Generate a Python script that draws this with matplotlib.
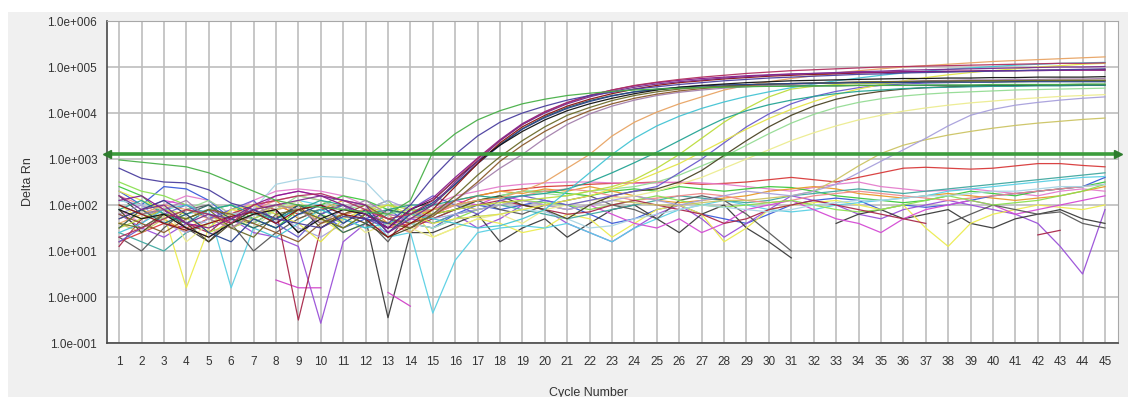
import numpy as np
import matplotlib
matplotlib.use("Agg")
import matplotlib.pyplot as plt
from matplotlib.patches import Rectangle
from matplotlib.ticker import FixedLocator, FuncFormatter, NullLocator

plt.rcParams['font.family'] = ['Liberation Sans', 'DejaVu Sans']

cycles = np.arange(1, 46)
threshold = 1300
y_decades = [-1, 0, 1, 2, 3, 4, 5, 6]

# log10(Delta Rn) per cycle
a_green = [2.98, 2.93, 2.88, 2.83, 2.7, 2.5, 2.3, 2.1, 2.0, 1.95, 1.9, 1.85, 1.8, 2.1,
           3.15, 3.55, 3.85, 4.05, 4.2, 4.3, 4.38, 4.43, 4.47, 4.5, 4.52, 4.54, 4.55, 4.56, 4.57, 4.58,
           4.58, 4.59, 4.59, 4.6, 4.6, 4.6, 4.61, 4.61, 4.61, 4.62, 4.62, 4.62, 4.62, 4.63, 4.63]
a_purple = [2.8, 2.58, 2.5, 2.48, 2.33, 2.04, 1.9, 1.7, 1.6, 1.5, 1.75, 1.7, 1.6, 2.0,
            2.6, 3.1, 3.5, 3.8, 4.0, 4.15, 4.28, 4.38, 4.45, 4.52, 4.57, 4.62, 4.66, 4.7, 4.73, 4.76,
            4.78, 4.8, 4.82, 4.84, 4.85, 4.87, 4.88, 4.89, 4.9, 4.91, 4.92, 4.93, 4.94, 4.95, 4.96]
m1 = [2.2, 1.9, 2.0, 1.6, 1.8, 1.7, 1.9, 2.0, 2.1, 2.2, 2.1, 2.0, 1.4, 1.7,
      2.0, 2.5, 2.95, 3.4, 3.75, 4.0, 4.2, 4.35, 4.47, 4.56, 4.63, 4.68, 4.72, 4.76, 4.79, 4.82,
      4.84, 4.86, 4.88, 4.9, 4.91, 4.93, 4.94, 4.95, 4.96, 4.97, 4.98, 4.99, 5.0, 5.0, 5.01]
m2 = [1.9, 1.7, 1.8, 1.5, 1.3, 1.6, 1.8, 1.9, 1.4, 1.7, 1.9, 1.8, 1.5, 1.9,
      2.1, 2.55, 2.95, 3.3, 3.6, 3.85, 4.05, 4.2, 4.32, 4.42, 4.5, 4.56, 4.6, 4.63, 4.66, 4.68,
      4.7, 4.71, 4.72, 4.73, 4.74, 4.75, 4.75, 4.76, 4.76, 4.77, 4.77, 4.78, 4.78, 4.78, 4.79]
m3 = [2.0, 1.8, 1.6, 1.45, 1.6, 1.75, 1.85, 1.6, 1.9, 2.0, 1.8, 1.7, 1.3, 1.6,
      1.9, 2.4, 2.9, 3.35, 3.7, 3.95, 4.15, 4.3, 4.42, 4.52, 4.6, 4.66, 4.7, 4.74, 4.77, 4.8,
      4.82, 4.84, 4.85, 4.87, 4.88, 4.89, 4.9, 4.9, 4.91, 4.92, 4.92, 4.93, 4.93, 4.94, 4.94]
m4 = [1.7, 1.9, 2.1, 1.8, 1.4, 1.2, 1.7, 1.5, 1.8, 2.0, 1.6, 1.9, 1.4, 1.8,
      2.05, 2.45, 2.9, 3.3, 3.65, 3.9, 4.1, 4.25, 4.37, 4.46, 4.52, 4.56, 4.59, 4.61, 4.62, 4.63,
      4.64, 4.65, 4.65, 4.66, 4.66, 4.66, 4.67, 4.67, 4.67, 4.67, 4.68, 4.68, 4.68, 4.68, 4.68]
m5 = [1.6, 1.5, 1.8, 1.7, 1.9, 1.5, 1.3, 1.8, 1.9, 1.7, 1.5, 1.8, 1.6, 1.5,
      1.8, 2.2, 2.65, 3.05, 3.4, 3.7, 3.95, 4.12, 4.27, 4.38, 4.46, 4.52, 4.56, 4.59, 4.61, 4.63,
      4.64, 4.65, 4.66, 4.67, 4.68, 4.68, 4.69, 4.69, 4.7, 4.7, 4.7, 4.71, 4.71, 4.71, 4.71]
m6 = [1.3, 1.5, 1.7, 1.9, 1.8, 1.6, 2.0, 2.1, 2.2, 2.25, 2.1, 1.9, 1.7, 1.8,
      2.1, 2.55, 3.0, 3.4, 3.75, 4.02, 4.22, 4.38, 4.5, 4.6, 4.67, 4.73, 4.78, 4.82, 4.86, 4.89,
      4.92, 4.94, 4.96, 4.98, 5.0, 5.01, 5.02, 5.03, 5.04, 5.05, 5.06, 5.07, 5.08, 5.08, 5.09]
m7 = [1.8, 1.6, 1.4, 1.7, 1.9, 1.8, 1.6, 1.4, 1.2, 1.6, 1.8, 2.0, 1.7, 1.6,
      1.75, 2.1, 2.5, 2.95, 3.3, 3.6, 3.85, 4.05, 4.2, 4.32, 4.41, 4.48, 4.53, 4.57, 4.6, 4.62,
      4.64, 4.65, 4.66, 4.67, 4.68, 4.68, 4.69, 4.69, 4.7, 4.7, 4.7, 4.7, 4.71, 4.71, 4.71]
m8 = [2.0, 1.8, 1.9, 2.1, 1.7, 1.5, 1.8, 2.0, 1.9, 1.6, 1.9, 2.1, 1.8, 1.7,
      1.8, 2.1, 2.45, 2.8, 3.1, 3.45, 3.75, 3.98, 4.15, 4.28, 4.38, 4.45, 4.5, 4.54, 4.57, 4.6,
      4.62, 4.64, 4.66, 4.67, 4.68, 4.69, 4.7, 4.71, 4.72, 4.72, 4.73, 4.73, 4.74, 4.74, 4.75]
m9 = [1.5, 1.9, 1.6, 1.8, 2.0, 1.7, 1.5, 1.7, 2.0, 1.8, 1.4, 1.6, 1.9, 1.8,
      2.0, 2.45, 2.9, 3.32, 3.66, 3.92, 4.12, 4.27, 4.38, 4.46, 4.51, 4.54, 4.56, 4.57, 4.58, 4.58,
      4.59, 4.59, 4.59, 4.6, 4.6, 4.6, 4.6, 4.6, 4.6, 4.6, 4.6, 4.61, 4.61, 4.61, 4.61]
m10 = [2.1, 2.2, 1.9, 1.6, 1.5, 1.7, 2.0, 2.2, 2.3, 2.2, 2.0, 1.8, 1.5, 1.9,
       2.15, 2.6, 3.02, 3.42, 3.77, 4.03, 4.23, 4.38, 4.5, 4.59, 4.66, 4.71, 4.75, 4.78, 4.81, 4.83,
       4.85, 4.86, 4.87, 4.88, 4.89, 4.9, 4.9, 4.91, 4.91, 4.92, 4.92, 4.92, 4.93, 4.93, 4.93]
l_orange = [1.6, 1.8, 2.0, 1.9, 1.7, 1.5, 1.8, 1.9, 2.0, 1.6, 1.8, 1.9, 1.7, 1.8,
            1.9, 2.0, 2.1, 2.15, 2.3, 2.5, 2.8, 3.1, 3.5, 3.8, 4.02, 4.2, 4.35, 4.5, 4.6, 4.68,
            4.75, 4.81, 4.87, 4.92, 4.96, 5.0, 5.03, 5.06, 5.09, 5.12, 5.14, 5.16, 5.18, 5.2, 5.22]
l_cyan = [1.4, 1.6, 1.9, 2.0, 1.8, 1.7, 1.5, 1.3, 1.6, 1.9, 1.7, 1.5, 1.6, 1.8,
          1.7, 1.6, 1.5, 1.55, 1.7, 1.9, 2.3, 2.7, 3.1, 3.45, 3.72, 3.93, 4.1, 4.24, 4.36, 4.46,
          4.55, 4.63, 4.7, 4.76, 4.82, 4.87, 4.91, 4.95, 4.98, 5.01, 5.04, 5.06, 5.08, 5.09, 5.1]
l_teal = [1.9, 2.1, 1.8, 1.6, 1.9, 2.0, 1.8, 1.7, 1.9, 2.1, 2.0, 1.8, 1.9, 2.0,
          2.0, 2.1, 2.2, 2.15, 2.2, 2.25, 2.35, 2.5, 2.7, 2.92, 3.15, 3.4, 3.65, 3.88, 4.05, 4.18,
          4.28, 4.36, 4.42, 4.47, 4.5, 4.53, 4.55, 4.56, 4.57, 4.58, 4.58, 4.59, 4.59, 4.6, 4.6]
l_ygreen = [1.5, 1.7, 1.9, 1.8, 1.4, 1.6, 1.8, 2.0, 1.9, 1.7, 1.5, 1.8, 2.0, 1.9,
            1.8, 1.9, 2.0, 2.05, 2.1, 2.15, 2.2, 2.3, 2.4, 2.55, 2.8, 3.1, 3.45, 3.8, 4.1, 4.35,
            4.52, 4.58, 4.62, 4.64, 4.65, 4.66, 4.67, 4.67, 4.68, 4.68, 4.68, 4.69, 4.69, 4.69, 4.69]
l_yellow = [2.3, 2.1, 1.9, 1.7, 1.5, 1.9, 2.0, 1.8, 1.6, 1.2, 1.7, 1.9, 2.0, 1.8,
            1.6, 1.7, 1.75, 1.8, 1.9, 2.0, 2.1, 2.2, 2.35, 2.5, 2.7, 2.9, 3.15, 3.4, 3.65, 3.88,
            4.08, 4.25, 4.4, 4.52, 4.62, 4.7, 4.77, 4.83, 4.88, 4.92, 4.96, 5.0, 5.03, 5.06, 5.08]
l_blueviolet = [1.2, 1.5, 1.8, 2.0, 1.7, 1.9, 2.1, 1.6, 1.3, 1.8, 2.0, 1.7, 1.5, 1.9,
                2.2, 2.0, 1.8, 2.1, 2.2, 2.1, 2.0, 2.1, 2.2, 2.3, 2.4, 2.7, 3.0, 3.35, 3.7, 3.98,
                4.2, 4.36, 4.47, 4.55, 4.6, 4.63, 4.65, 4.66, 4.67, 4.68, 4.68, 4.69, 4.69, 4.7, 4.7]
l_dark = [1.9, 1.4, 1.8, 1.6, 1.2, 1.6, 1.9, 1.7, 2.0, 1.5, 1.8, 1.6, 1.3, 1.5,
          1.8, 1.9, 2.1, 2.2, 2.0, 1.9, 1.7, 2.0, 2.2, 2.3, 2.35, 2.5, 2.75, 3.08, 3.4, 3.7,
          3.95, 4.15, 4.3, 4.4, 4.47, 4.52, 4.55, 4.57, 4.58, 4.59, 4.6, 4.6, 4.61, 4.61, 4.61]
l_paleyellow = [1.7, 1.9, 2.0, 1.2, 1.6, 1.8, 1.5, 1.9, 2.1, 1.7, 1.8, 1.4, 1.6, 1.5,
                1.3, 1.5, 1.7, 1.8, 1.6, 1.9, 2.0, 2.1, 2.15, 2.2, 2.3, 2.45, 2.6, 2.8, 3.0, 3.2,
                3.4, 3.57, 3.72, 3.85, 3.95, 4.04, 4.11, 4.17, 4.22, 4.26, 4.3, 4.33, 4.36, 4.38, 4.4]
l_lightgreen = [2.0, 1.8, 1.7, 1.9, 2.1, 1.8, 1.6, 1.9, 2.2, 2.1, 1.9, 2.0, 1.8, 1.9,
                1.9, 2.0, 2.1, 2.2, 2.3, 2.25, 2.2, 2.3, 2.35, 2.4, 2.5, 2.65, 2.85, 3.05, 3.3, 3.55,
                3.78, 3.97, 4.12, 4.23, 4.31, 4.37, 4.41, 4.44, 4.46, 4.48, 4.5, 4.51, 4.52, 4.53, 4.54]
l_olive = [1.6, 1.4, 1.7, 1.9, 1.8, 1.5, 1.7, 2.0, 1.9, 1.6, 1.7, 1.9, 1.8, 1.4,
           1.9, 2.0, 1.9, 2.0, 2.1, 2.0, 1.9, 2.0, 2.1, 2.05, 2.0, 2.0, 2.05, 2.1, 2.1, 2.15,
           2.2, 2.3, 2.55, 2.85, 3.12, 3.3, 3.42, 3.52, 3.6, 3.67, 3.73, 3.78, 3.82, 3.86, 3.89]
l_lavender = [1.8, 2.0, 1.6, 1.4, 1.7, 1.9, 2.0, 1.8, 1.5, 1.3, 1.6, 1.9, 2.1, 1.9,
              1.7, 1.8, 1.9, 2.0, 2.1, 2.0, 1.9, 2.0, 2.1, 2.2, 2.1, 2.0, 2.1, 2.2, 2.3, 2.25,
              2.2, 2.3, 2.45, 2.7, 2.95, 3.2, 3.45, 3.72, 3.95, 4.08, 4.17, 4.23, 4.28, 4.32, 4.35]

n_red = [1.2, 1.4, 1.6, 1.5, 1.7, 1.8, 1.9, 2.0, 1.8, 1.9, 2.0, 1.7, 1.5, 1.6,
         1.8, 2.0, 2.2, 2.3, 2.35, 2.4, 2.42, 2.45, 2.47, 2.48, 2.5, 2.48, 2.45, 2.47, 2.5, 2.55,
         2.6, 2.55, 2.5, 2.6, 2.7, 2.8, 2.82, 2.8, 2.78, 2.8, 2.85, 2.9, 2.9, 2.86, 2.83]
n_pink = [1.9, 1.6, 2.0, 2.2, 2.1, 1.8, 2.1, 2.3, 2.35, 2.3, 2.2, 2.0, 1.8, 1.7,
          2.0, 2.2, 2.3, 2.4, 2.45, 2.48, 2.5, 2.5, 2.48, 2.47, 2.48, 2.5, 2.48, 2.45, 2.4, 2.35,
          2.3, 2.38, 2.45, 2.5, 2.4, 2.35, 2.3, 2.32, 2.35, 2.3, 2.25, 2.2, 2.3, 2.35, 2.3]
n_green = [2.4, 2.2, 1.8, 1.7, 1.9, 2.0, 1.7, 1.5, 1.9, 2.0, 2.2, 2.1, 1.9, 1.8,
           1.7, 1.9, 2.1, 2.2, 2.3, 2.3, 2.25, 2.2, 2.3, 2.35, 2.3, 2.4, 2.35, 2.3, 2.35, 2.4,
           2.38, 2.3, 2.2, 2.15, 2.1, 2.05, 2.1, 2.2, 2.3, 2.25, 2.2, 2.3, 2.35, 2.4, 2.5]
n_orange = [1.5, 1.9, 1.7, 1.4, 1.6, 1.8, 2.0, 2.1, 1.7, 1.9, 2.1, 2.0, 1.6, 1.7,
            1.9, 2.1, 2.2, 2.3, 2.25, 2.35, 2.3, 2.4, 2.3, 2.2, 2.1, 2.05, 2.1, 2.15, 2.2, 2.3,
            2.35, 2.4, 2.35, 2.25, 2.2, 2.15, 2.2, 2.25, 2.2, 2.15, 2.1, 2.15, 2.2, 2.3, 2.4]
n_blue = [2.3, 2.0, 2.4, 2.35, 2.1, 1.7, 1.9, 1.6, 2.0, 1.8, 1.5, 1.7, 1.9, 1.6,
          1.5, 1.8, 2.0, 1.9, 2.0, 2.1, 2.0, 1.8, 1.6, 1.7, 1.9, 2.0, 1.8, 1.7, 1.6, 1.8,
          2.0, 2.1, 2.15, 2.1, 1.9, 2.0, 1.95, 2.0, 2.1, 2.2, 2.25, 2.3, 2.35, 2.4, 2.6]
n_violet = [1.8, 1.5, 1.3, 1.6, 1.9, 1.7, 1.4, 1.3, 1.1, -0.57, 1.2, 1.6, 1.4, 1.7,
            1.6, 1.8, 1.5, 1.7, 2.0, 1.9, 1.6, 1.4, 1.2, 1.5, 1.8, 2.0, 1.7, 1.3, 1.6, 1.9,
            2.2, 2.1, 2.0, 1.8, 1.7, 1.9, 2.0, 2.1, 2.0, 1.9, 1.8, 1.6, 1.1, 0.5, 1.9]
n_black = [2.2, 1.8, 1.9, 1.5, 1.2, 1.7, 1.6, 1.9, 1.4, 1.8, 2.0, 1.7, -0.45, 1.4,
           1.4, 1.6, 1.8, 1.2, 1.5, 1.7, 1.3, 1.6, 1.9, 2.0, 1.7, 1.4, 1.8, 2.0, 1.5, 1.2,
           0.85, None, 1.6, 1.8, 1.9, 1.7, 1.8, 1.9, 1.6, 1.5, 1.7, 1.8, 1.9, 1.7, 1.6]
n_yellow = [2.0, 1.7, 1.8, 0.2, 1.5, 1.9, 1.8, 2.0, 1.9, 1.7, 1.4, 1.6, 1.9, 2.0,
            1.3, 1.5, 1.7, 1.6, 1.4, 1.5, 1.8, 1.7, 1.3, 1.6, 1.9, 2.0, 1.8, 1.2, 1.5, 1.9,
            2.0, 2.05, 2.1, 2.0, 1.9, 2.0, 1.5, 1.1, 1.6, 1.8, 1.9, 2.0, 1.95, 1.9, 2.0]
n_cyan = [2.1, 2.0, 1.6, 1.8, 1.9, 0.2, 1.5, 1.9, 2.1, 2.0, 1.8, 1.9, 1.3, 1.4,
          -0.35, 0.8, 1.4, 1.5, 1.55, 1.5, 1.6, 1.4, 1.2, 1.5, 1.7, 1.9, 2.0, 2.1, 2.0, 1.9,
          1.85, 1.9, 2.0, 2.05, 2.1, 2.15, 2.2, 2.3, 2.35, 2.4, 2.45, 2.5, 2.55, 2.6, 2.62]
n_magenta = [1.7, 1.9, 2.1, 2.0, 1.8, 1.6, 1.9, 2.2, 2.3, 2.2, 2.1, 2.0, 1.5, 1.8,
             1.9, 2.1, 2.0, 2.2, 2.1, 2.0, 1.9, 2.0, 1.8, 1.6, 1.5, 1.7, 1.4, 1.6, 1.9, 2.0,
             2.1, 1.9, 1.7, 1.6, 1.4, 1.7, 1.9, 2.0, 2.1, 2.0, 1.8, 1.9, 2.0, 2.1, 2.2]
s_magenta = [None, None, None, None, None, None, None, 0.37, 0.2, 0.2, None, None, 0.1, -0.2,
             None, None, None, None, None, None, None, None, None, None, None, None, None, None, None, None,
             None, None, None, None, None, None, None, None, None, None, None, None, None, None, None]
n_teal = [1.4, 1.2, 1.0, 1.4, 1.6, 1.8, 1.7, 1.5, 1.8, 1.9, 1.7, 1.5, 1.8, 1.9,
          1.6, 1.8, 1.9, 2.0, 1.9, 1.8, 1.7, 1.8, 1.9, 2.0, 2.1, 2.2, 2.15, 2.1, 2.05, 2.1,
          2.2, 2.25, 2.3, 2.35, 2.3, 2.25, 2.3, 2.35, 2.4, 2.45, 2.5, 2.55, 2.6, 2.65, 2.7]
n_dark = [1.3, 1.0, 1.5, 1.9, 2.0, 1.6, 1.0, 1.4, 1.7, 1.9, 2.0, 1.7, 1.2, 1.9,
          1.9, 2.0, 2.1, 1.9, 1.8, 2.0, 2.1, 2.2, 2.0, 1.9, 1.7, 2.1, 2.2, 2.1, 1.8, 1.4,
          1.0, None, None, None, None, None, None, 1.6, 1.8, 2.0, 1.9, 1.8, 1.85, 1.6, 1.5]
n_salmon = [2.2, 2.0, 1.8, 1.5, 1.3, 1.7, 1.9, 2.1, 2.2, 2.1, 1.9, 1.8, 1.6, 1.4,
            1.8, 2.0, 2.1, 2.15, 2.2, 2.3, 2.35, 2.3, 2.2, 2.1, 2.15, 2.2, 2.25, 2.2, 2.1, 2.05,
            2.1, 2.2, 2.25, 2.3, 2.25, 2.2, 2.15, 2.1, 2.15, 2.2, 2.25, 2.3, 2.35, 2.4, 2.45]
n_lime = [2.5, 2.3, 2.2, 2.0, 1.8, 1.5, 1.7, 1.9, 2.0, 1.8, 1.6, 1.9, 2.1, 1.6,
          1.5, 1.7, 1.9, 2.0, 2.1, 2.05, 2.0, 1.9, 2.0, 2.1, 2.2, 2.1, 2.0, 1.95, 2.0, 2.05,
          2.1, 2.0, 1.9, 1.85, 1.9, 2.0, 2.1, 2.2, 2.1, 2.0, 2.05, 2.1, 2.2, 2.3, 2.45]
n_maroon = [1.1, 1.7, 1.9, 1.6, 1.4, 1.8, 2.0, 1.9, -0.5, 1.5, 1.8, 1.9, 1.7, 1.5,
            1.7, 1.9, 2.0, 2.1, 2.0, 1.9, 1.8, 1.85, 2.0, 2.1, 2.0, 1.9, 1.8, 1.6, 1.7, 1.9,
            2.0, 2.1, 2.0, 1.9, 1.8, 1.7, 1.6, None, None, None, None, 1.35, 1.45, None, None]
n_paleblue = [2.1, 2.0, 1.9, 1.7, 1.6, 1.8, 1.9, 2.45, 2.55, 2.62, 2.6, 2.5, 2.0, 1.6,
              1.5, 1.7, 1.75, 1.8, 1.9, 1.85, 1.7, 1.5, 1.55, 1.7, 1.8, 1.9, 2.0, 1.95, 1.9, 1.85,
              1.9, 2.0, 2.05, 2.1, 2.1, 2.15, 2.2, 2.2, 2.25, 2.3, 2.3, 2.35, 2.4, 2.4, 2.45]

curves = [
    (n_red, '#d83a3a'), (n_pink, '#e47ccc'), (n_green, '#3cc83c'), (n_orange, '#e89a2a'),
    (n_blue, '#3a5ad8'), (n_violet, '#9a50d8'), (n_black, '#3a3a3a'), (n_yellow, '#ecec50'),
    (n_cyan, '#5ad0e4'), (n_magenta, '#d44ad4'), (s_magenta, '#d040c8'), (n_teal, '#40a8a0'),
    (n_dark, '#585858'), (n_salmon, '#f08a8a'), (n_lime, '#8ae050'), (n_maroon, '#a8284a'),
    (n_paleblue, '#a8d4e4'),
    (l_olive, '#ccc464'), (l_lavender, '#a8a0dc'), (l_paleyellow, '#ecec90'),
    (l_lightgreen, '#94dc94'), (l_dark, '#4a4424'), (l_blueviolet, '#6a5acd'),
    (l_yellow, '#e4e448'), (l_ygreen, '#bcdc3c'), (l_teal, '#24a494'),
    (l_cyan, '#44c4d4'), (l_orange, '#e8a464'),
    (m9, '#2e6464'), (m8, '#a480ac'), (m7, '#8b5a2b'), (m5, '#6b6b2a'), (m4, '#27408b'),
    (m3, '#8b1010'), (m2, '#111111'), (m10, '#8b1a8b'), (m6, '#b03060'), (m1, '#7b2d8e'),
    (a_purple, '#4b3f9f'), (a_green, '#48b048'),
]

fig = plt.figure(figsize=(11.28, 3.97), dpi=100, facecolor='white')
fig.add_artist(Rectangle((8 / 1128, 0), 1, 1 - 12 / 397, transform=fig.transFigure,
                         facecolor='#f0f0f0', edgecolor='none', zorder=-10))

ax = fig.add_axes([107 / 1128, 1 - 343 / 397, 1011 / 1128, 322 / 397])
ax.set_facecolor('white')

for vals, col in curves:
    logs = np.array(vals, dtype=float)
    ax.plot(cycles, 10 ** logs, color=col, lw=0.9, alpha=0.95, zorder=3)

x_lo, x_hi = 0.46, 45.58
ax.axhline(threshold, color='#3c9c3c', lw=2.6, zorder=6)
ax.plot([x_lo], [threshold], marker='<', color='#2e7d2e', ms=6, clip_on=False, zorder=7)
ax.plot([x_hi], [threshold], marker='>', color='#2e7d2e', ms=6, clip_on=False, zorder=7)

ax.set_yscale('log')
ax.set_xlim(x_lo, x_hi)
ax.set_ylim(10.0 ** y_decades[0], 10.0 ** y_decades[-1])
ax.set_xticks(cycles)
ax.yaxis.set_major_locator(FixedLocator([10.0 ** k for k in y_decades]))
ax.yaxis.set_minor_locator(NullLocator())
ax.yaxis.set_major_formatter(FuncFormatter(lambda v, p: "1.0e%+04d" % int(round(np.log10(v)))))

ax.grid(True, color='#bdbdbd', lw=1.2, zorder=0)
ax.set_axisbelow(True)
ax.tick_params(axis='both', length=0, labelsize=8.5, labelcolor='#333333')
ax.tick_params(axis='x', pad=9.5)
ax.tick_params(axis='y', pad=7)

for side in ['left', 'bottom']:
    ax.spines[side].set_color('#484848')
    ax.spines[side].set_linewidth(1.2)
for side in ['top', 'right']:
    ax.spines[side].set_color('#a8a8a8')

ax.set_xlabel('Cycle Number', fontsize=9, color='#333333', va='top')
ax.xaxis.set_label_coords(0.476, -0.137)
ax.set_ylabel('Delta Rn', fontsize=9, color='#333333')
ax.yaxis.set_label_coords(-0.072, 0.5)

fig.savefig('out.png', dpi=100, facecolor=fig.get_facecolor())
